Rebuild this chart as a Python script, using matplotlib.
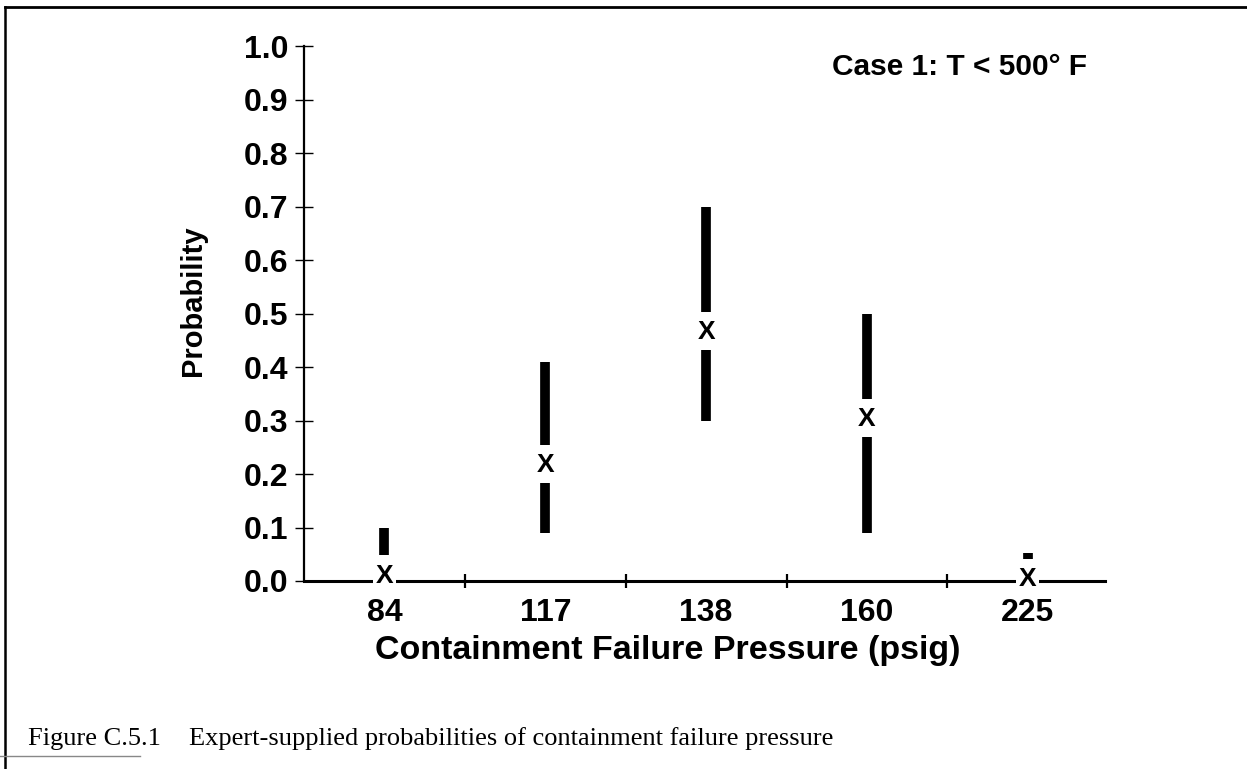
import matplotlib
matplotlib.use("Agg")
import matplotlib.pyplot as plt
from matplotlib.lines import Line2D

# ---- data ----
categories = ["84", "117", "138", "160", "225"]
low_vals = [0.00, 0.09, 0.30, 0.09, 0.00]
best_vals = [0.01, 0.217, 0.465, 0.303, 0.003]
high_vals = [0.10, 0.41, 0.70, 0.50, 0.053]
yticks = [0.0, 0.1, 0.2, 0.3, 0.4, 0.5, 0.6, 0.7, 0.8, 0.9, 1.0]

W, H = 1247, 769
plt.rcParams['font.family'] = ['Liberation Sans', 'DejaVu Sans']
fig = plt.figure(figsize=(W / 100, H / 100), dpi=100)
ax = fig.add_axes([304 / W, 1 - 581 / H, (1105 - 304) / W, (581 - 46) / H])

gap_up = 0.038
gap_dn = 0.034
xs = list(range(len(categories)))
for x, lo, b, hi in zip(xs, low_vals, best_vals, high_vals):
    top_start = b + gap_up
    if hi > top_start:
        ax.plot([x, x], [top_start, hi], color='black', lw=7, solid_capstyle='butt', zorder=3)
    bot_end = b - gap_dn
    if bot_end > lo:
        ax.plot([x, x], [lo, bot_end], color='black', lw=7, solid_capstyle='butt', zorder=3)
    ax.text(x, b, "X", ha='center', va='center', fontsize=19, fontweight='bold',
            zorder=6, clip_on=False,
            bbox=dict(boxstyle='square,pad=0.1', fc='white', ec='none'))

ax.set_xlim(-0.5, 4.48)
ax.set_ylim(0, 1.0)
ax.set_yticks(yticks)
ax.set_yticklabels([f"{v:.1f}" for v in yticks], fontsize=23, fontweight='bold')
ax.set_xticks(xs)
ax.set_xticklabels(categories, fontsize=23, fontweight='bold')
ax.set_xticks([0.5, 1.5, 2.5, 3.5], minor=True)
ax.tick_params(axis='x', which='major', length=0, pad=12)
ax.tick_params(axis='x', which='minor', direction='inout', length=10, width=1.6)
ax.tick_params(axis='y', which='major', direction='inout', length=13, width=1.0, pad=5)

for s in ['top', 'right']:
    ax.spines[s].set_visible(False)
ax.spines['left'].set_linewidth(1.6)
ax.spines['bottom'].set_linewidth(2.2)

ax.set_ylabel("Probability", fontsize=21, fontweight='bold')
ax.yaxis.set_label_coords((207 - 304) / (1105 - 304), (581 - 301) / (581 - 46))

fig.text(668 / W, 1 - 650 / H, "Containment Failure Pressure (psig)", ha='center', va='center',
         fontsize=24.5, fontweight='bold')
fig.text(1087 / W, 1 - 67 / H, "Case 1: T < 500° F", ha='right', va='center',
         fontsize=21.5, fontweight='bold')

fig.text(28 / W, 1 - 745 / H, "Figure C.5.1", ha='left', va='baseline',
         fontsize=19, family='Liberation Serif')
fig.text(189 / W, 1 - 745 / H, "Expert-supplied probabilities of containment failure pressure",
         ha='left', va='baseline', fontsize=19, family='Liberation Serif')

# page frame
fig.add_artist(Line2D([5 / W, 1.0], [1 - 7 / H, 1 - 7 / H], color='black', lw=2.0))
fig.add_artist(Line2D([5 / W, 5 / W], [0, 1 - 7 / H], color='black', lw=1.8))
fig.add_artist(Line2D([0, 140 / W], [1 - 756 / H, 1 - 756 / H], color='#888888', lw=1.0))

fig.savefig("out.png", dpi=100)
